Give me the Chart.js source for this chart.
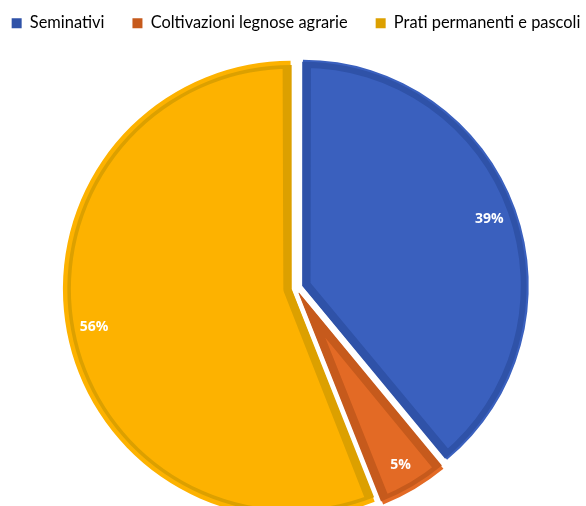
<!DOCTYPE html>
<html>
<head>
<meta charset="utf-8">
<script src="https://cdn.jsdelivr.net/npm/chart.js@4.4.0/dist/chart.umd.min.js"></script>
<style>
  html, body { margin: 0; padding: 0; background: #fff; overflow: hidden; }
  body { width: 586px; height: 506px; position: relative; }
  /* il grafico esce dal bordo in basso, come nell'originale */
  #wrap { position: absolute; left: -34.5px; top: -13px; width: 660px; height: 548px; }
</style>
</head>
<body>
<div id="wrap"><canvas id="myChartpie"></canvas></div>
<script>
var categorie = ['Seminativi', 'Coltivazioni legnose agrarie', 'Prati permanenti e pascoli'];
var valori = [39, 5, 56];//percentuali
var coloriFill = ['#3A60BE', '#E36A25', '#FDB200'];
var coloriBordo = ['#2F52A8', '#C65A1C', '#DCA000'];
var stacco = 9.5;//distanza in px di ogni fetta dal centro

// chart.js sposta la fetta di offset/4*(2-sin(angolo)), quindi si converte
function offsetPer(stacco) {
    var tot = valori.reduce(function(a, b) { return a + b; }, 0);
    return valori.map(function(v) {
        var circ = v / tot * 2 * Math.PI;
        var k = (2 - Math.sin(Math.min(Math.PI, circ))) / 4;
        return stacco / k;
    });
}

var etichette = {//percentuali dentro le fette
    id: 'etichette',
    afterDatasetsDraw: function(chart) {
        var ctx = chart.ctx;
        var meta = chart.getDatasetMeta(0);
        var tot = valori.reduce(function(a, b) { return a + b; }, 0);
        ctx.save();
        ctx.font = 'bold 14px "Open Sans"';
        ctx.fillStyle = '#ffffff';
        ctx.textAlign = 'center';
        ctx.textBaseline = 'middle';
        meta.data.forEach(function(arc, i) {
            var p = arc.getProps(['x', 'y', 'startAngle', 'endAngle', 'outerRadius'], true);
            var mid = (p.startAngle + p.endAngle) / 2;
            var r = stacco + p.outerRadius * 0.875;
            var txt = Math.round(valori[i] / tot * 100) + '%';
            ctx.fillText(txt, p.x + Math.cos(mid) * r, p.y + Math.sin(mid) * r);
        });
        ctx.restore();
    }
};

var ctx1 = document.getElementById('myChartpie').getContext('2d');
var myChartpie = new Chart(ctx1, {
    type: 'pie',
    data: {
        labels: categorie,
        datasets: [{
            data: valori,
            backgroundColor: coloriFill,
            borderColor: coloriBordo,
            borderWidth: 8,
            borderAlign: 'inner',
            offset: offsetPer(stacco)
        }]
    },
    options: {
        responsive: true,
        maintainAspectRatio: false,
        animation: false,
        radius: 224,
        plugins: {
            tooltip: { enabled: false },
            legend: {
                position: 'top',
                labels: {
                    boxWidth: 10,
                    boxHeight: 10,
                    padding: 28,
                    color: '#444444',
                    font: { family: 'Lato', size: 16.4 },
                    generateLabels: function(chart) {
                        return categorie.map(function(c, i) {
                            return {
                                text: c,
                                fillStyle: coloriBordo[i],
                                strokeStyle: coloriBordo[i],
                                lineWidth: 0,
                                index: i
                            };
                        });
                    }
                }
            }
        }
    },
    plugins: [etichette]
});
</script>
</body>
</html>
